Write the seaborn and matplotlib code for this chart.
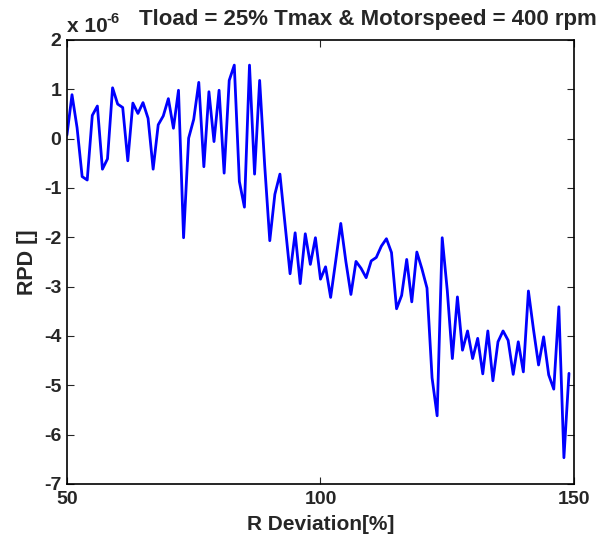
import numpy as np
import pandas as pd
import matplotlib
matplotlib.use("Agg")
import matplotlib.pyplot as plt
import seaborn as sns

# R deviation in percent, one sample per percent
r_dev = list(range(50, 150))
# RPD values, in units of 1e-6
rpd = [0.07, 0.89, 0.22, -0.77, -0.84, 0.47, 0.66, -0.62, -0.41, 1.03,
       0.70, 0.63, -0.45, 0.72, 0.51, 0.73, 0.41, -0.62, 0.28, 0.46,
       0.81, 0.21, 0.98, -2.01, 0.01, 0.39, 1.14, -0.57, 0.95, -0.06,
       0.98, -0.70, 1.18, 1.49, -0.87, -1.39, 1.49, -0.72, 1.18, -0.55,
       -2.07, -1.13, -0.72, -1.73, -2.74, -1.91, -2.94, -1.93, -2.55, -2.01,
       -2.85, -2.60, -3.22, -2.48, -1.72, -2.49, -3.16, -2.49, -2.63, -2.82,
       -2.48, -2.41, -2.18, -2.03, -2.31, -3.45, -3.18, -2.45, -3.31, -2.30,
       -2.64, -3.03, -4.85, -5.62, -2.01, -3.08, -4.46, -3.21, -4.29, -3.90,
       -4.46, -4.05, -4.77, -3.90, -4.91, -4.12, -3.90, -4.09, -4.78, -4.12,
       -4.73, -3.09, -3.87, -4.59, -4.02, -4.79, -5.08, -3.41, -6.47, -4.76]
x_ticks = [50, 100, 150]
y_ticks = list(range(-7, 3))
title = 'Tload = 25% Tmax & Motorspeed = 400 rpm'

sns.set_style("white")
plt.rcParams['font.family'] = ['Liberation Sans', 'DejaVu Sans']
plt.rcParams['font.weight'] = 'bold'
plt.rcParams['axes.unicode_minus'] = False

df = pd.DataFrame({'r': r_dev, 'rpd': rpd})

fig = plt.figure(figsize=(6.03, 5.4), dpi=100)
ax = fig.add_axes([0.111, 0.104, 0.841, 0.822])
sns.lineplot(data=df, x='r', y='rpd', ax=ax, color='#0000ff', linewidth=2.0)

ax.set_xlim(50, 150)
ax.set_ylim(-7, 2)
ax.set_xticks(x_ticks)
ax.set_yticks(y_ticks)
ax.tick_params(direction='in', length=5, width=0.8, labelsize=14,
               top=True, right=True, bottom=True, left=True)
ax.tick_params(axis='x', pad=5)
ax.tick_params(axis='y', pad=4)
for lbl in ax.get_xticklabels() + ax.get_yticklabels():
    lbl.set_fontweight('bold')
for sp in ax.spines.values():
    sp.set_color('black')
    sp.set_linewidth(1.2)

ax.set_xlabel('R Deviation[%]', fontsize=15, fontweight='bold', labelpad=5)
ax.set_ylabel('RPD []', fontsize=15.5, fontweight='bold', labelpad=4)
ax.set_title(title, fontsize=16, fontweight='bold', x=0.594, pad=11)

# MATLAB style exponent label
ax.annotate('x 10', xy=(0, 1), xycoords='axes fraction',
            xytext=(0, 5.5), textcoords='offset points',
            fontsize=15, fontweight='bold', ha='left', va='baseline')
ax.annotate('-6', xy=(0, 1), xycoords='axes fraction',
            xytext=(28.5, 20), textcoords='offset points',
            fontsize=10.5, fontweight='bold', ha='left', va='top')

fig.savefig('out.png', dpi=100)
